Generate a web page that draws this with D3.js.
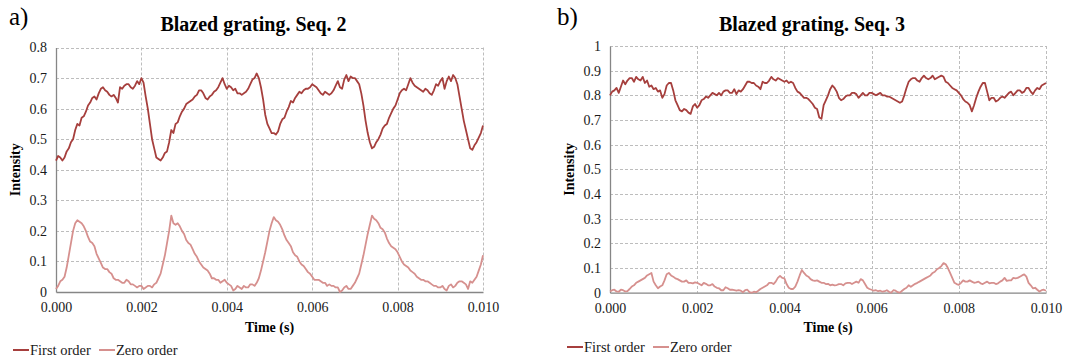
<!DOCTYPE html>
<html>
<head>
<meta charset="utf-8">
<script src="https://cdn.jsdelivr.net/npm/d3@7/dist/d3.min.js"></script>
<style>
  body { margin: 0; background: #fff; }
  svg { display: block; font-family: "Liberation Serif", "Times New Roman", serif; }
</style>
</head>
<body>
<svg id="chart" width="1067" height="363"></svg>
<script>
// samples every 0.05 ms from 0 to 10 ms
const sampleStep = 0.00005;
const xTicks = [0, 0.002, 0.004, 0.006, 0.008, 0.010];
const seriesNames = ['First order', 'Zero order'];

// a) Blazed grating. Seq. 2
const seq2First = [
  0.43, 0.445, 0.44, 0.43, 0.44, 0.46, 0.47, 0.49, 0.50, 0.53, 0.55, 0.545, 0.57, 0.575, 0.59, 0.61, 0.62, 0.635, 0.64, 0.63,
  0.65, 0.665, 0.67, 0.66, 0.655, 0.645, 0.64, 0.645, 0.635, 0.62, 0.67, 0.665, 0.675, 0.68, 0.68, 0.67, 0.665, 0.675, 0.69, 0.68,
  0.70, 0.685, 0.64, 0.60, 0.55, 0.50, 0.47, 0.44, 0.435, 0.43, 0.44, 0.455, 0.46, 0.49, 0.53, 0.52, 0.55, 0.555, 0.575, 0.59,
  0.60, 0.615, 0.62, 0.625, 0.63, 0.64, 0.645, 0.66, 0.66, 0.65, 0.635, 0.63, 0.64, 0.645, 0.655, 0.66, 0.67, 0.685, 0.70, 0.68,
  0.665, 0.675, 0.67, 0.66, 0.665, 0.65, 0.65, 0.645, 0.65, 0.655, 0.665, 0.68, 0.695, 0.70, 0.715, 0.70, 0.67, 0.63, 0.58, 0.55,
  0.535, 0.52, 0.52, 0.515, 0.525, 0.55, 0.565, 0.57, 0.59, 0.605, 0.625, 0.62, 0.635, 0.645, 0.655, 0.65, 0.66, 0.665, 0.665, 0.67,
  0.68, 0.675, 0.67, 0.66, 0.65, 0.645, 0.655, 0.65, 0.645, 0.65, 0.66, 0.675, 0.69, 0.67, 0.665, 0.695, 0.71, 0.69, 0.705, 0.70,
  0.70, 0.69, 0.68, 0.65, 0.61, 0.56, 0.52, 0.49, 0.47, 0.475, 0.49, 0.50, 0.515, 0.535, 0.545, 0.55, 0.57, 0.585, 0.60, 0.61,
  0.63, 0.65, 0.66, 0.665, 0.66, 0.68, 0.70, 0.685, 0.675, 0.67, 0.665, 0.66, 0.655, 0.665, 0.66, 0.65, 0.645, 0.66, 0.68, 0.675,
  0.69, 0.70, 0.665, 0.69, 0.705, 0.69, 0.71, 0.70, 0.68, 0.64, 0.60, 0.56, 0.53, 0.50, 0.47, 0.465, 0.48, 0.49, 0.505, 0.52,
  0.545
];
const seq2Zero = [
  0.01, 0.02, 0.035, 0.04, 0.05, 0.08, 0.12, 0.16, 0.20, 0.225, 0.235, 0.23, 0.225, 0.215, 0.20, 0.18, 0.165, 0.16, 0.15, 0.125,
  0.11, 0.095, 0.08, 0.075, 0.075, 0.065, 0.06, 0.045, 0.04, 0.04, 0.035, 0.03, 0.03, 0.04, 0.035, 0.025, 0.025, 0.02, 0.015, 0.02,
  0.02, 0.01, 0.015, 0.02, 0.02, 0.015, 0.025, 0.03, 0.045, 0.06, 0.09, 0.12, 0.16, 0.20, 0.25, 0.225, 0.22, 0.225, 0.215, 0.20,
  0.19, 0.17, 0.16, 0.155, 0.14, 0.125, 0.115, 0.10, 0.09, 0.08, 0.075, 0.07, 0.06, 0.045, 0.045, 0.04, 0.04, 0.03, 0.035, 0.04,
  0.03, 0.025, 0.02, 0.005, 0.01, 0.02, 0.015, 0.01, 0.02, 0.015, 0.015, 0.025, 0.025, 0.02, 0.03, 0.045, 0.07, 0.10, 0.13, 0.165,
  0.20, 0.225, 0.245, 0.235, 0.23, 0.22, 0.205, 0.185, 0.17, 0.16, 0.15, 0.13, 0.12, 0.115, 0.10, 0.09, 0.085, 0.075, 0.065, 0.06,
  0.05, 0.04, 0.04, 0.04, 0.035, 0.03, 0.03, 0.02, 0.025, 0.02, 0.02, 0.015, 0.015, 0.0, 0.005, 0.015, 0.02, 0.01, 0.01, 0.02,
  0.03, 0.045, 0.06, 0.09, 0.12, 0.155, 0.19, 0.22, 0.25, 0.24, 0.235, 0.225, 0.21, 0.205, 0.195, 0.175, 0.16, 0.15, 0.145, 0.14,
  0.13, 0.115, 0.10, 0.09, 0.085, 0.08, 0.07, 0.065, 0.06, 0.05, 0.045, 0.04, 0.04, 0.035, 0.035, 0.03, 0.025, 0.02, 0.02, 0.015,
  0.015, 0.02, 0.01, 0.005, 0.02, 0.025, 0.015, 0.02, 0.03, 0.035, 0.035, 0.03, 0.025, 0.01, 0.035, 0.03, 0.04, 0.05, 0.07, 0.09,
  0.12
];
const seq2YTicks = [0, 0.1, 0.2, 0.3, 0.4, 0.5, 0.6, 0.7, 0.8];

// b) Blazed grating. Seq. 3
const seq3First = [
  0.80, 0.815, 0.82, 0.83, 0.81, 0.835, 0.86, 0.845, 0.86, 0.87, 0.87, 0.855, 0.875, 0.865, 0.86, 0.875, 0.85, 0.86, 0.835, 0.84,
  0.825, 0.83, 0.815, 0.82, 0.79, 0.805, 0.84, 0.85, 0.85, 0.82, 0.78, 0.76, 0.74, 0.735, 0.745, 0.74, 0.73, 0.725, 0.755, 0.765,
  0.75, 0.76, 0.78, 0.785, 0.795, 0.79, 0.80, 0.81, 0.805, 0.80, 0.81, 0.80, 0.815, 0.82, 0.82, 0.81, 0.81, 0.825, 0.805, 0.82,
  0.815, 0.825, 0.84, 0.855, 0.855, 0.85, 0.85, 0.84, 0.835, 0.825, 0.855, 0.85, 0.85, 0.86, 0.875, 0.865, 0.86, 0.87, 0.865, 0.86,
  0.855, 0.86, 0.85, 0.855, 0.85, 0.83, 0.815, 0.81, 0.80, 0.79, 0.79, 0.785, 0.775, 0.765, 0.75, 0.745, 0.71, 0.705, 0.76, 0.78,
  0.80, 0.825, 0.84, 0.83, 0.815, 0.79, 0.78, 0.785, 0.795, 0.80, 0.80, 0.81, 0.81, 0.805, 0.79, 0.80, 0.81, 0.80, 0.80, 0.81,
  0.81, 0.805, 0.80, 0.805, 0.81, 0.80, 0.80, 0.795, 0.795, 0.79, 0.785, 0.78, 0.775, 0.77, 0.775, 0.80, 0.83, 0.855, 0.865, 0.87,
  0.87, 0.86, 0.855, 0.87, 0.88, 0.87, 0.865, 0.87, 0.88, 0.865, 0.87, 0.875, 0.88, 0.875, 0.855, 0.85, 0.84, 0.83, 0.825, 0.82,
  0.81, 0.80, 0.785, 0.775, 0.77, 0.76, 0.735, 0.76, 0.79, 0.815, 0.835, 0.85, 0.85, 0.815, 0.78, 0.79, 0.79, 0.775, 0.78, 0.79,
  0.795, 0.79, 0.80, 0.81, 0.815, 0.80, 0.81, 0.82, 0.82, 0.81, 0.815, 0.83, 0.83, 0.815, 0.805, 0.82, 0.83, 0.825, 0.84, 0.845,
  0.85
];
const seq3Zero = [
  0.005, 0.01, 0.012, 0.005, 0.004, 0.012, 0.01, 0.005, 0.006, 0.015, 0.025, 0.03, 0.04, 0.045, 0.05, 0.055, 0.06, 0.07, 0.075, 0.08,
  0.045, 0.03, 0.018, 0.025, 0.03, 0.05, 0.075, 0.08, 0.07, 0.065, 0.058, 0.055, 0.05, 0.045, 0.045, 0.05, 0.04, 0.04, 0.038, 0.042,
  0.04, 0.035, 0.03, 0.04, 0.036, 0.03, 0.03, 0.035, 0.025, 0.02, 0.018, 0.01, 0.01, 0.022, 0.018, 0.012, 0.012, 0.01, 0.008, 0.01,
  0.008, 0.002, 0.01, 0.012, 0.002, 0.0, 0.004, 0.002, 0.008, 0.015, 0.02, 0.025, 0.03, 0.04, 0.04, 0.035, 0.045, 0.06, 0.068, 0.06,
  0.058, 0.035, 0.02, 0.015, 0.015, 0.025, 0.045, 0.07, 0.092, 0.08, 0.07, 0.065, 0.055, 0.05, 0.048, 0.05, 0.045, 0.04, 0.04, 0.035,
  0.036, 0.03, 0.033, 0.03, 0.031, 0.035, 0.035, 0.03, 0.038, 0.04, 0.04, 0.035, 0.04, 0.045, 0.04, 0.055, 0.05, 0.035, 0.02, 0.015,
  0.012, 0.008, 0.01, 0.006, 0.008, 0.004, 0.006, 0.01, 0.004, 0.0, 0.01, 0.008, 0.002, 0.0, 0.008, 0.015, 0.02, 0.03, 0.024, 0.03,
  0.036, 0.04, 0.045, 0.05, 0.055, 0.06, 0.065, 0.07, 0.08, 0.085, 0.095, 0.10, 0.108, 0.12, 0.115, 0.10, 0.08, 0.06, 0.04, 0.035,
  0.032, 0.04, 0.05, 0.045, 0.045, 0.05, 0.045, 0.04, 0.042, 0.045, 0.038, 0.035, 0.04, 0.045, 0.038, 0.04, 0.04, 0.035, 0.038, 0.045,
  0.05, 0.06, 0.048, 0.05, 0.05, 0.06, 0.058, 0.06, 0.065, 0.07, 0.074, 0.065, 0.04, 0.03, 0.018, 0.02, 0.012, 0.005, 0.01, 0.012,
  0.008
];
const seq3YTicks = [0, 0.1, 0.2, 0.3, 0.4, 0.5, 0.6, 0.7, 0.8, 0.9, 1];

const colors = ['#a63f3d', '#d6908e'];
const svg = d3.select('#chart');

function drawPanel(opts) {
  const x = d3.scaleLinear().domain([0, 0.010]).range([opts.left, opts.right]);
  const y = d3.scaleLinear().domain([0, opts.yMax]).range([opts.bottom, opts.top]);
  const g = svg.append('g');

  // panel letter and title
  g.append('text').attr('x', opts.letterX).attr('y', 25)
    .style('font-size', '25px').text(opts.letter);
  g.append('text').attr('x', (opts.left + opts.right) / 2 - 16).attr('y', 31)
    .attr('text-anchor', 'middle').style('font-size', '20px').style('font-weight', 'bold')
    .text(opts.title);

  // gridlines
  g.append('g').selectAll('line').data(opts.yTicks.filter(d => d > 0)).join('line')
    .attr('x1', opts.left).attr('x2', opts.right)
    .attr('y1', d => Math.round(y(d)) + 0.5).attr('y2', d => Math.round(y(d)) + 0.5)
    .attr('stroke', '#bdbdbd').attr('stroke-dasharray', '3,2');
  g.append('g').selectAll('line').data(xTicks.filter(d => d > 0)).join('line')
    .attr('x1', d => Math.round(x(d)) + 0.5).attr('x2', d => Math.round(x(d)) + 0.5)
    .attr('y1', opts.top).attr('y2', opts.bottom)
    .attr('stroke', '#bdbdbd').attr('stroke-dasharray', '3,2');

  // axes
  const xAxis = g.append('g').attr('transform', `translate(0,${opts.bottom})`)
    .call(d3.axisBottom(x).tickValues(xTicks).tickFormat(d3.format('.3f')).tickSize(0).tickPadding(10));
  const yAxis = g.append('g').attr('transform', `translate(${opts.left},0)`)
    .call(d3.axisLeft(y).tickValues(opts.yTicks).tickFormat(d => String(+d.toFixed(1))).tickSize(0).tickPadding(9));
  [xAxis, yAxis].forEach(a => {
    a.attr('font-family', null).attr('font-size', null);
    a.select('.domain').attr('stroke', '#868686').attr('stroke-width', 1.3);
    a.selectAll('text').style('font-size', '14px').attr('fill', '#1a1a1a');
  });

  // axis titles
  g.append('text').attr('x', (opts.left + opts.right) / 2).attr('y', 332)
    .attr('text-anchor', 'middle').style('font-size', '14px').style('font-weight', 'bold')
    .text('Time (s)');
  g.append('text').attr('transform', `translate(${opts.left - 36},${(opts.top + opts.bottom) / 2}) rotate(-90)`)
    .attr('text-anchor', 'middle').style('font-size', '14px').style('font-weight', 'bold')
    .text('Intensity');

  // lines
  const line = d3.line().x((d, i) => x(i * sampleStep)).y(d => y(d));
  [opts.zero, opts.first].forEach((vals, k) => {
    g.append('path').datum(vals)
      .attr('fill', 'none')
      .attr('stroke', k === 0 ? colors[1] : colors[0])
      .attr('stroke-width', 1.8)
      .attr('stroke-linejoin', 'round')
      .attr('d', line);
  });

  // legend
  const lg = g.append('g').attr('transform', `translate(${opts.legendX},${opts.legendY})`);
  const offsets = [0, 86];
  seriesNames.forEach((name, k) => {
    lg.append('line').attr('x1', offsets[k]).attr('x2', offsets[k] + 16)
      .attr('y1', -5).attr('y2', -5).attr('stroke', colors[k]).attr('stroke-width', 2);
    lg.append('text').attr('x', offsets[k] + 17).attr('y', 0)
      .style('font-size', '14.5px').attr('fill', '#1a1a1a').text(name);
  });
}

drawPanel({
  left: 56, right: 483, top: 47.5, bottom: 292, yMax: 0.8, yTicks: seq2YTicks,
  first: seq2First, zero: seq2Zero,
  letter: 'a)', letterX: 9, title: 'Blazed grating. Seq. 2',
  legendX: 13, legendY: 355
});
drawPanel({
  left: 610, right: 1046, top: 46, bottom: 292.7, yMax: 1, yTicks: seq3YTicks,
  first: seq3First, zero: seq3Zero,
  letter: 'b)', letterX: 557, title: 'Blazed grating. Seq. 3',
  legendX: 567, legendY: 352
});
</script>
</body>
</html>
